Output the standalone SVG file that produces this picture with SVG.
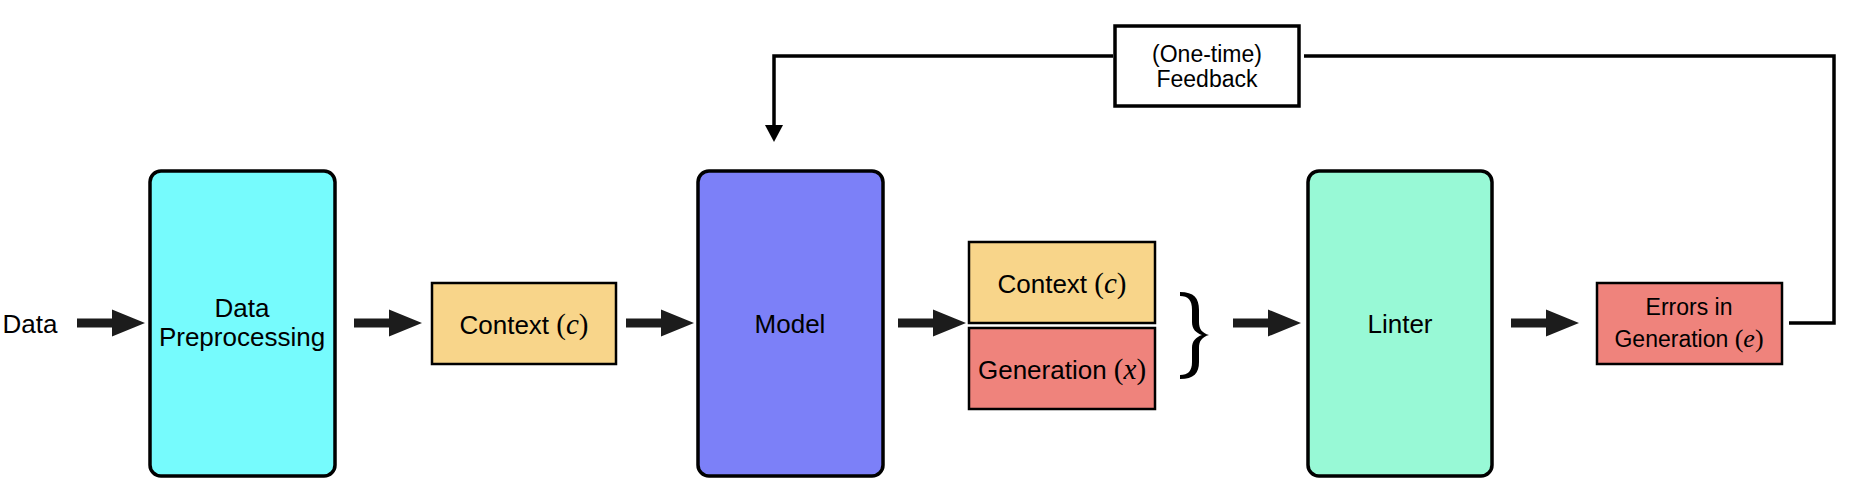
<svg xmlns="http://www.w3.org/2000/svg" width="1862" height="486" viewBox="0 0 1862 486">
<style>
.t{font-family:"Liberation Sans",Arial,sans-serif;font-size:26px;fill:#000;text-anchor:middle}
.s{font-size:23px}
.m{font-family:"Liberation Serif","Times New Roman",serif;font-size:29px}
.ms{font-size:26px}
.i{font-style:italic}
.big{stroke:#000;stroke-width:3.5}
.box{stroke:#000;stroke-width:2.5}
.arr{fill:#1c1c1c}
.fb{fill:none;stroke:#000;stroke-width:3.5}
</style>
<defs>
<path id="arrow" d="M0,-4.5 H35 V-13.5 L68,0 L35,13.5 V4.5 H0 Z"/>
</defs>
<g id="data-label"><text class="t" x="30" y="333">Data</text></g>
<g id="preprocessing">
<rect class="big" x="150" y="171" width="185" height="305" rx="11" fill="#76FBFD"/>
<text class="t" x="242" y="317">Data</text>
<text class="t" x="242" y="346">Preprocessing</text>
</g>
<g id="context1">
<rect class="box" x="432" y="283" width="184" height="81" fill="#F8D58A"/>
<text class="t" x="524" y="334">Context <tspan class="m">(</tspan><tspan class="m i">c</tspan><tspan class="m">)</tspan></text>
</g>
<g id="model">
<rect class="big" x="698" y="171" width="185" height="305" rx="11" fill="#7C80F8"/>
<text class="t" x="790" y="333">Model</text>
</g>
<g id="context2">
<rect class="box" x="969" y="242" width="186" height="81" fill="#F8D58A"/>
<text class="t" x="1062" y="293">Context <tspan class="m">(</tspan><tspan class="m i">c</tspan><tspan class="m">)</tspan></text>
</g>
<g id="generation">
<rect class="box" x="969" y="328" width="186" height="81" fill="#EF837C"/>
<text class="t" x="1062" y="379">Generation <tspan class="m">(</tspan><tspan class="m i">x</tspan><tspan class="m">)</tspan></text>
</g>
<g id="brace">
<path d="M1180,292 C1194,292 1199,298 1199,310 L1199,322 C1199,329 1202,333 1209,335 C1202,337 1199,341 1199,348 L1199,362 C1199,373 1194,379 1180,379 L1180,375 C1188,375 1192,371 1192,362 L1192,348 C1192,341 1196,337 1202,335 C1196,333 1192,329 1192,322 L1192,310 C1192,300 1188,296 1180,296 Z" fill="#000"/>
</g>
<g id="linter">
<rect class="big" x="1308" y="171" width="184" height="305" rx="11" fill="#98F9D6"/>
<text class="t" x="1400" y="333">Linter</text>
</g>
<g id="errors">
<rect class="box" x="1597" y="283" width="185" height="81" fill="#EF837C"/>
<text class="t s" x="1689" y="315">Errors in</text>
<text class="t s" x="1689" y="347">Generation <tspan class="m ms">(</tspan><tspan class="m ms i">e</tspan><tspan class="m ms">)</tspan></text>
</g>
<g id="feedback">
<rect x="1115" y="26" width="184" height="80" fill="#fff" stroke="#000" stroke-width="3.5"/>
<text class="t s" x="1207" y="62">(One-time)</text>
<text class="t s" x="1207" y="87">Feedback</text>
</g>
<g id="connectors">
<use href="#arrow" class="arr" x="77" y="323"/>
<use href="#arrow" class="arr" x="354" y="323"/>
<use href="#arrow" class="arr" x="626" y="323"/>
<use href="#arrow" class="arr" x="898" y="323"/>
<use href="#arrow" class="arr" x="1233" y="323"/>
<use href="#arrow" class="arr" x="1511" y="323"/>
<polyline class="fb" points="1789,323 1834,323 1834,56 1304,56"/>
<polyline class="fb" points="1113,56 774,56 774,127"/>
<polygon points="765,125 783,125 774,142" fill="#000"/>
</g>
</svg>
